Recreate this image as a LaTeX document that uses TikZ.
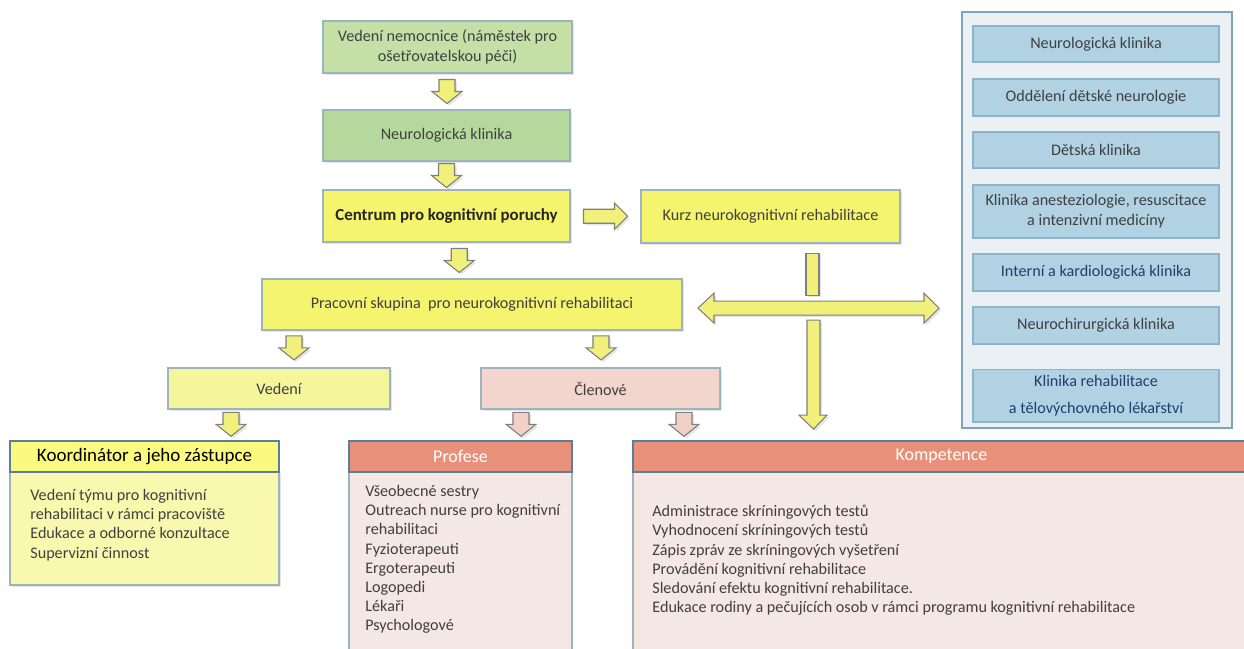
\documentclass[tikz,border=0pt]{standalone}
\usepackage{fontspec}
\setmainfont{Carlito}
\usetikzlibrary{shadows,calc}
\definecolor{txt}{HTML}{404040}
\definecolor{grnA}{HTML}{C4E0A6}
\definecolor{grnB}{HTML}{B5D99C}
\definecolor{yel}{HTML}{F4F46E}
\definecolor{lyel}{HTML}{F5F59B}
\definecolor{pinkA}{HTML}{F2D5CD}
\definecolor{kohdr}{HTML}{FAFA80}
\definecolor{kobody}{HTML}{F8F8AE}
\definecolor{salmon}{HTML}{E8917A}
\definecolor{pinkbody}{HTML}{F5E7E4}
\definecolor{panelbg}{HTML}{EAF0F4}
\definecolor{panelborder}{HTML}{7EA3BC}
\definecolor{pbox}{HTML}{B0D2E2}
\definecolor{pborder}{HTML}{8CB5CA}
\definecolor{bgray}{HTML}{9DB4BE}
\definecolor{hborder}{HTML}{5B7F99}
\definecolor{btxt}{HTML}{1F3F6E}
\definecolor{arrfill}{HTML}{F0F07A}
\definecolor{arrpink}{HTML}{F2D0C8}
\definecolor{arrline}{HTML}{808080}
\tikzset{
  shd/.style={drop shadow={shadow xshift=1.2pt,shadow yshift=-1.2pt,opacity=0.2}},
  boxx/.style={draw=bgray, line width=0.7pt, inner sep=2pt, align=center, text=txt,
    font=\fontsize{9.2}{11.5}\selectfont, shd},
  hdr/.style={draw=hborder, line width=0.8pt, inner sep=2pt, align=center},
  body/.style={draw=bgray, line width=0.7pt},
  pb/.style={draw=pborder, fill=pbox, line width=0.7pt, minimum width=4.92cm, align=center,
    text=txt, font=\fontsize{9.2}{11.5}\selectfont},
  lst/.style={anchor=north west, inner sep=0pt, align=left, text=txt,
    font=\fontsize{9.2}{10.9}\selectfont},
  arr/.style={draw=arrline, line width=0.6pt, line join=miter, shd},
  pics/dnarrow/.style={code={
    \draw[arr, fill=#1] (-8,-12) -- (8,-12) -- (8,0) -- (15,0) -- (0,12) -- (-15,0) -- (-8,0) -- cycle;}},
  pics/rtarrow/.style={code={
    \draw[arr, fill=#1] (-22,-7) -- (9,-7) -- (9,-13) -- (22,0) -- (9,13) -- (9,7) -- (-22,7) -- cycle;}}
}
\begin{document}
\begin{tikzpicture}[x=0.02cm,y=-0.02cm]
\useasboundingbox[fill=white] (0,0) rectangle (1244,649);

% right panel
\node[draw=panelborder, fill=panelbg, line width=0.9pt, minimum width=5.4cm, minimum height=8.32cm, inner sep=0pt] (panel) at (1097,220) {};
\node[pb, minimum height=0.72cm] (p1) at (1096,44) {Neurologická klinika};
\node[pb, minimum height=0.74cm] (p2) at (1096,97.5) {Oddělení dětské neurologie};
\node[pb, minimum height=0.72cm] (p3) at (1096,150) {Dětská klinika};
\node[pb, minimum height=1.06cm] (p4) at (1096,211.5) {Klinika anesteziologie, resuscitace\\a intenzivní medicíny};
\node[pb, minimum height=0.74cm, text=btxt] (p5) at (1096,272.5) {Interní a kardiologická klinika};
\node[pb, minimum height=0.74cm] (p6) at (1096,325.5) {Neurochirurgická klinika};
\node[pb, minimum height=1.02cm, text=btxt, font=\fontsize{9.2}{15.5}\selectfont] (p7) at (1096,395.5) {Klinika rehabilitace\\a tělovýchovného lékařství};

% main chain
\node[boxx, fill=grnA, minimum width=4.98cm, minimum height=1.04cm] (vn) at (447.5,47) {Vedení nemocnice (náměstek pro\\ošetřovatelskou péči)};
\node[boxx, fill=grnB, minimum width=4.94cm, minimum height=1.02cm] (nk) at (446.5,135.5) {Neurologická klinika};
\node[boxx, fill=yel, minimum width=4.94cm, minimum height=1.04cm, text=black!85, font=\fontsize{9.6}{11.5}\selectfont\bfseries] (cp) at (446.5,216) {Centrum pro kognitivní poruchy};
\node[boxx, fill=yel, minimum width=5.18cm, minimum height=1.06cm] (kurz) at (770.5,216.5) {Kurz neurokognitivní rehabilitace};
\node[boxx, fill=yel, minimum width=8.4cm, minimum height=1.02cm] (ps) at (472,304.5) {Pracovní skupina~ pro neurokognitivní rehabilitaci};
\node[boxx, fill=lyel, minimum width=4.44cm, minimum height=0.82cm] (ved) at (279,388.5) {Vedení};
\node[boxx, fill=pinkA, minimum width=4.78cm, minimum height=0.82cm] (cl) at (600.5,388.5) {Členové};

% bottom boxes
\node[body, fill=kobody, minimum width=5.38cm, minimum height=2.26cm, shd] (kob) at (144.5,528.5) {};
\node[hdr, fill=kohdr, minimum width=5.38cm, minimum height=0.62cm, font=\fontsize{10.8}{12}\selectfont, text=black] (koh) at (144.5,456.5) {Koordinátor a jeho zástupce};
\node[body, fill=pinkbody, minimum width=4.46cm, minimum height=3.76cm] (prb) at (460.5,566) {};
\node[hdr, fill=salmon, minimum width=4.46cm, minimum height=0.62cm, font=\fontsize{10.2}{12}\selectfont, text=white] (prh) at (460.5,456.5) {Profese};
\node[body, fill=pinkbody, minimum width=12.34cm, minimum height=3.76cm] (kb) at (941.5,566) {};
\node[hdr, fill=salmon, minimum width=12.34cm, minimum height=0.62cm, font=\fontsize{10.2}{12}\selectfont, text=white] (kh) at (941.5,456.5) {Kompetence};

% lists
\node[lst] (kol) at (30,489) {Vedení týmu pro kognitivní\\rehabilitaci v rámci pracoviště\\Edukace a odborné konzultace\\Supervizní činnost};
\node[lst] (prl) at (365,485) {Všeobecné sestry\\Outreach nurse pro kognitivní\\rehabilitaci\\Fyzioterapeuti\\Ergoterapeuti\\Logopedi\\Lékaři\\Psychologové};
\node[lst] (kl) at (652,505) {Administrace skríningových testů\\Vyhodnocení skríningových testů\\Zápis zpráv ze skríningových vyšetření\\Provádění kognitivní rehabilitace\\Sledování efektu kognitivní rehabilitace.\\Edukace rodiny a pečujících osob v rámci programu kognitivní rehabilitace};

% block arrows
\pic at ($(vn.south)!0.5!(nk.north)$) {dnarrow=arrfill};
\pic at ($(nk.south)!0.5!(cp.north)$) {dnarrow=arrfill};
\pic at ($(cp.south)!0.5!(ps.north)$) {dnarrow=arrfill};
\pic at ($(cp.east)!0.5!(kurz.west)$) {rtarrow=arrfill};
\pic at ($(ved.north)+(15,-19.5)$) {dnarrow=arrfill};
\pic at ($(cl.north)+(0.5,-19.5)$) {dnarrow=arrfill};
\pic at ($(koh.north)+(86.5,-16)$) {dnarrow=arrfill};
\pic at ($(prh.north)+(60.5,-16)$) {dnarrow=arrpink};
\pic at ($(kh.north)+(-257.5,-16)$) {dnarrow=arrpink};

% cross arrow from Kurz
\coordinate (cx) at ($(kurz.south)+(42.5,64.5)$);
\draw[arr, fill=arrfill] ($(cx)+(-7,-55)$) rectangle ($(cx)+(6,-13)$);
\draw[arr, fill=arrfill] ($(cx)+(-115,0)$) -- ($(cx)+(-99,-15)$) -- ($(cx)+(-99,-7)$) -- ($(cx)+(111,-7)$) -- ($(cx)+(111,-15)$) -- ($(cx)+(126,0)$) -- ($(cx)+(111,15)$) -- ($(cx)+(111,7)$) -- ($(cx)+(-99,7)$) -- ($(cx)+(-99,15)$) -- cycle;
\draw[arr, fill=arrfill] ($(cx)+(-6,12)$) -- ($(cx)+(7,12)$) -- ($(cx)+(7,107)$) -- ($(cx)+(14,107)$) -- ($(cx)+(0.5,121)$) -- ($(cx)+(-14,107)$) -- ($(cx)+(-6,107)$) -- cycle;
\end{tikzpicture}
\end{document}
